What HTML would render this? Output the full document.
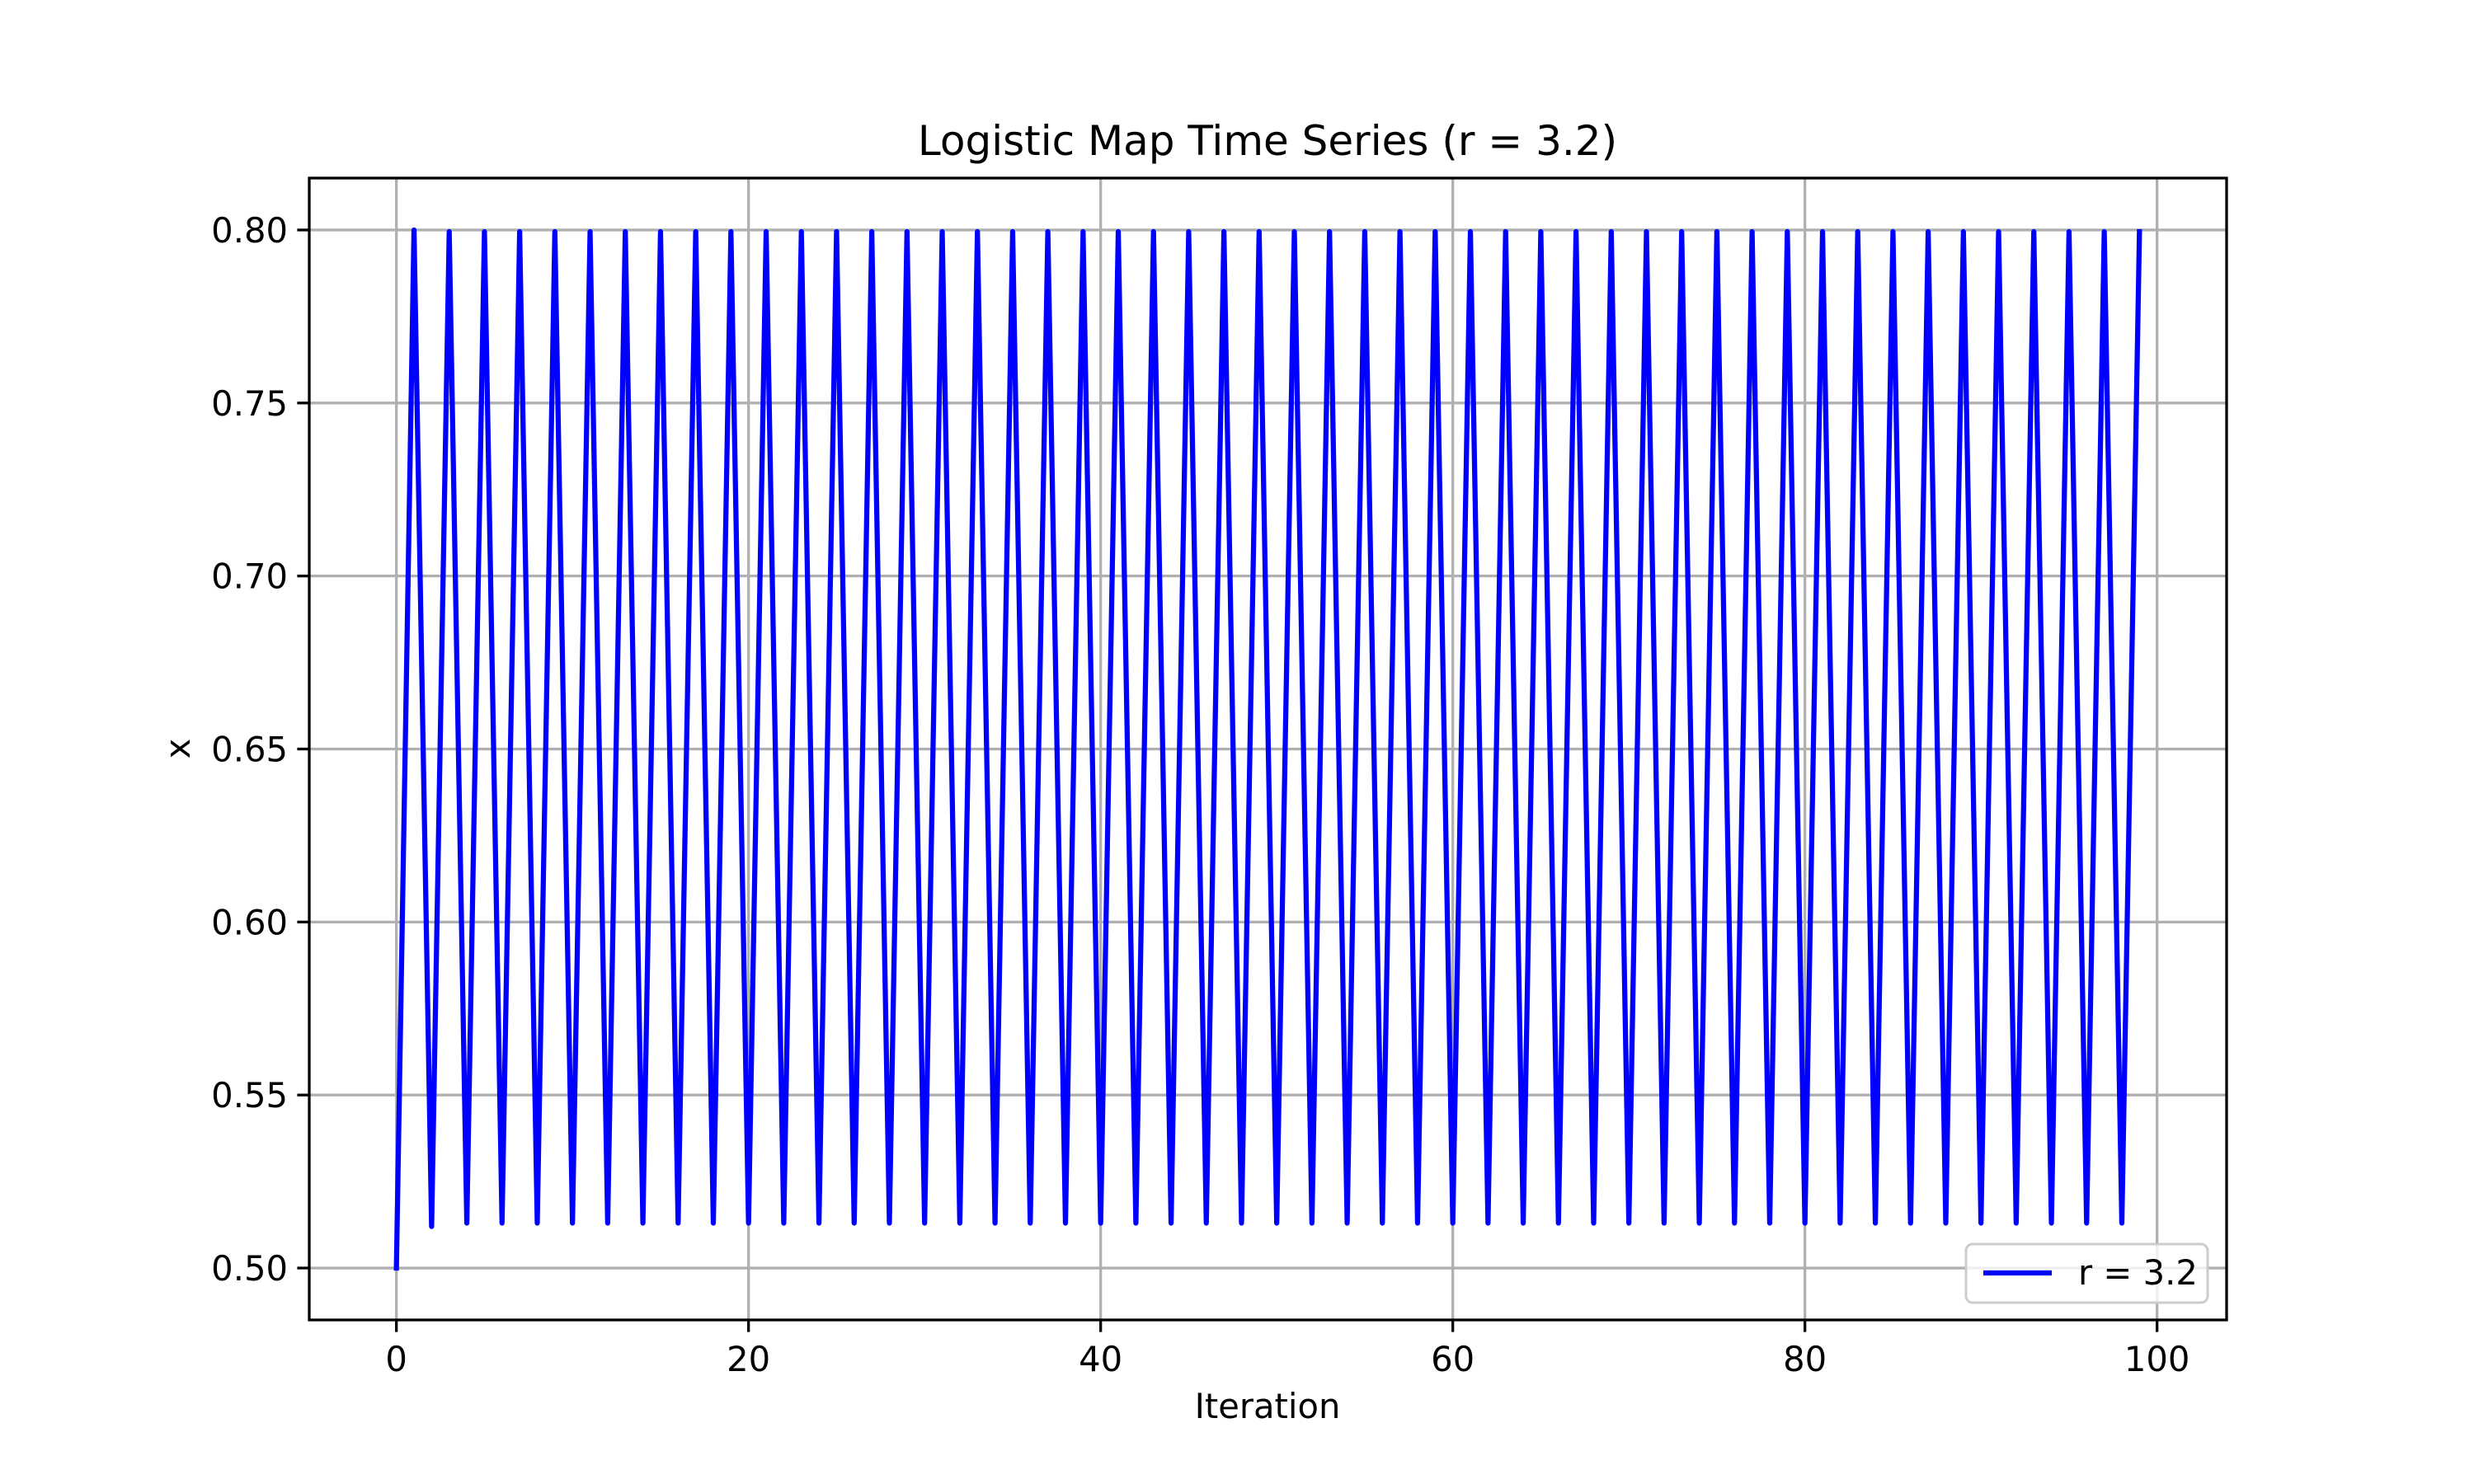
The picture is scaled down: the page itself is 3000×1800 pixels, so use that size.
<!DOCTYPE html>
<html><head><meta charset="utf-8"><style>
html,body{margin:0;padding:0;background:#fff;}
svg{display:block;font-family:"DejaVu Sans","Liberation Sans",sans-serif;}
</style></head><body>
<svg id="chart" width="3000" height="1800" viewBox="0 0 3000 1800" xmlns="http://www.w3.org/2000/svg">
<rect width="3000" height="1800" fill="#fff"/>
<text x="1537" y="188" font-size="50" text-anchor="middle">Logistic Map Time Series (r = 3.2)</text>
<g id="grid"></g>
<g id="series"></g>
<rect x="375" y="216" width="2325" height="1385" fill="none" stroke="#000" stroke-width="3.3"/>
<g id="ticks"></g>
<text x="1537" y="1720" font-size="41.7" text-anchor="middle">Iteration</text>
<text x="230" y="908" font-size="41.7" text-anchor="middle" transform="rotate(-90 230 908)">x</text>
<g>
<rect x="2384" y="1509" width="293" height="71" rx="8" fill="#fff" fill-opacity="0.8" stroke="#ccc" stroke-width="3"/>
<line x1="2405" y1="1544" x2="2488" y2="1544" stroke="#0000ff" stroke-width="6.25"/>
<text x="2520" y="1558" font-size="41.7">r = 3.2</text>
</g>
</svg>
<script>
const xTicks=[0,20,40,60,80,100];
const yTicks=[0.50,0.55,0.60,0.65,0.70,0.75,0.80];
const yTickLabels=["0.50","0.55","0.60","0.65","0.70","0.75","0.80"];
const values=[0.5,0.8,0.512,0.7995,0.5130,0.7995,0.5130,0.7995,0.5130,0.7995];
while(values.length<100){values.push(values.length%2===0?0.5130:0.7995);}
const X0=-4.95,X1=103.95,Y0=0.485,Y1=0.815;
const L=375,R=2700,T=216,B=1601;
const sx=v=>L+(v-X0)/(X1-X0)*(R-L);
const sy=v=>B-(v-Y0)/(Y1-Y0)*(B-T);
const NS="http://www.w3.org/2000/svg";
function mk(tag,attrs,parent){const e=document.createElementNS(NS,tag);for(const k in attrs)e.setAttribute(k,attrs[k]);parent.appendChild(e);return e;}
const grid=document.getElementById('grid'),ticks=document.getElementById('ticks'),series=document.getElementById('series');
xTicks.forEach(t=>{const x=sx(t);
const g=mk('line',{x1:x,x2:x,y1:T,y2:B,stroke:'#b0b0b0','stroke-width':3.3},grid);


const k=mk('line',{x1:x,x2:x,y1:B,y2:B+14.6,stroke:'#000','stroke-width':3.3},ticks);


const l=mk('text',{x:x,y:B+62,'font-size':41.7,'text-anchor':'middle'},ticks);l.textContent=t;


});
yTicks.forEach((t,i)=>{const y=sy(t);
const g=mk('line',{x1:L,x2:R,y1:y,y2:y,stroke:'#b0b0b0','stroke-width':3.3},grid);


const k=mk('line',{x1:L-14.6,x2:L,y1:y,y2:y,stroke:'#000','stroke-width':3.3},ticks);


const l=mk('text',{x:L-26,y:y+15,'font-size':41.7,'text-anchor':'end'},ticks);l.textContent=yTickLabels[i];


});
const pts=values.map((v,i)=>sx(i).toFixed(2)+','+sy(v).toFixed(2)).join(' ');
const line=mk('polyline',{points:pts,fill:'none',stroke:'#0000ff','stroke-width':6.25,'stroke-linejoin':'round','stroke-linecap':'square'},series);


</script>
</body></html>
